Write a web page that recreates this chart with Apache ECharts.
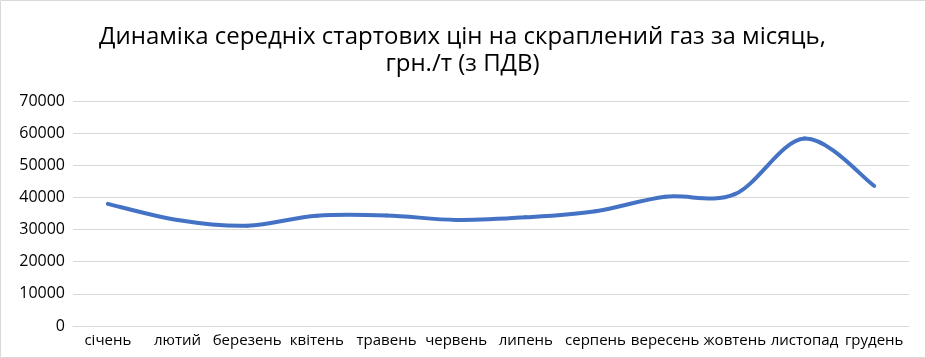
<!DOCTYPE html>
<html>
<head>
<meta charset="utf-8">
<script src="https://cdn.jsdelivr.net/npm/echarts@6/dist/echarts.min.js"></script>
<style>
html,body{margin:0;padding:0;background:#fff;}
#chart{width:925px;height:358px;}
</style>
</head>
<body>
<div id="chart"></div>
<script>
const titleText = 'Динаміка середніх стартових цін на скраплений газ за місяць,\nгрн./т (з ПДВ)';
const months = ['січень','лютий','березень','квітень','травень','червень','липень','серпень','вересень','жовтень','листопад','грудень'];
const prices = [38000, 33000, 31200, 34300, 34400, 33000, 33800, 35700, 40200, 41000, 58300, 43600];
const yMin = 0;
const yMax = 70000;
const yStep = 10000;

// Excel-like smoothing (Catmull-Rom style Bezier) through the data points,
// with pixel positions obtained from the chart's own scales via api.coord.
const TENSION = 1 / 6;
function renderSmoothLine(params, api) {
  if (params.dataIndex !== 0) return null;
  const pts = prices.map((v, i) => api.coord([i, v]));
  const n = pts.length;
  const children = [];
  for (let i = 0; i < n - 1; i++) {
    const p0 = pts[Math.max(i - 1, 0)];
    const p1 = pts[i];
    const p2 = pts[i + 1];
    const p3 = pts[Math.min(i + 2, n - 1)];
    children.push({
      type: 'bezierCurve',
      shape: {
        x1: p1[0], y1: p1[1],
        cpx1: p1[0] + (p2[0] - p0[0]) * TENSION,
        cpy1: p1[1] + (p2[1] - p0[1]) * TENSION,
        cpx2: p2[0] - (p3[0] - p1[0]) * TENSION,
        cpy2: p2[1] - (p3[1] - p1[1]) * TENSION,
        x2: p2[0], y2: p2[1]
      },
      style: {stroke: '#4472C4', lineWidth: 4, fill: null, lineCap: 'round', lineJoin: 'round'}
    });
  }
  return {type: 'group', children: children};
}

const chart = echarts.init(document.getElementById('chart'));
chart.setOption({
  animation: false,
  backgroundColor: '#fff',
  title: {
    text: titleText,
    left: 'center',
    top: 19,
    textStyle: {
      fontFamily: 'Open Sans',
      fontSize: 24,
      fontWeight: 'normal',
      color: '#000',
      lineHeight: 27
    }
  },
  graphic: [{
    type: 'rect',
    shape: {x: 0.5, y: 0.5, width: 930, height: 357},
    style: {fill: 'none', stroke: '#d9d9d9', lineWidth: 1},
    silent: true
  }],
  grid: {left: 73, right: 16, top: 101, bottom: 32, containLabel: false},
  xAxis: {
    type: 'category',
    data: months,
    boundaryGap: true,
    axisLine: {show: true, lineStyle: {color: '#d9d9d9', width: 1}},
    axisTick: {show: false},
    axisLabel: {
      interval: 0,
      margin: 7,
      fontFamily: 'Open Sans',
      fontSize: 15,
      color: '#000'
    }
  },
  yAxis: {
    type: 'value',
    min: yMin,
    max: yMax,
    interval: yStep,
    axisLine: {show: false},
    axisTick: {show: false},
    splitLine: {lineStyle: {color: '#d9d9d9', width: 1}},
    axisLabel: {
      margin: 8,
      fontFamily: 'Open Sans',
      fontSize: 16,
      color: '#000',
      formatter: function (v) { return String(v); }
    }
  },
  series: [{
    type: 'custom',
    data: prices.map((v, i) => [i, v]),
    encode: {x: 0, y: 1},
    renderItem: renderSmoothLine,
    silent: true
  }]
});
</script>
</body>
</html>
